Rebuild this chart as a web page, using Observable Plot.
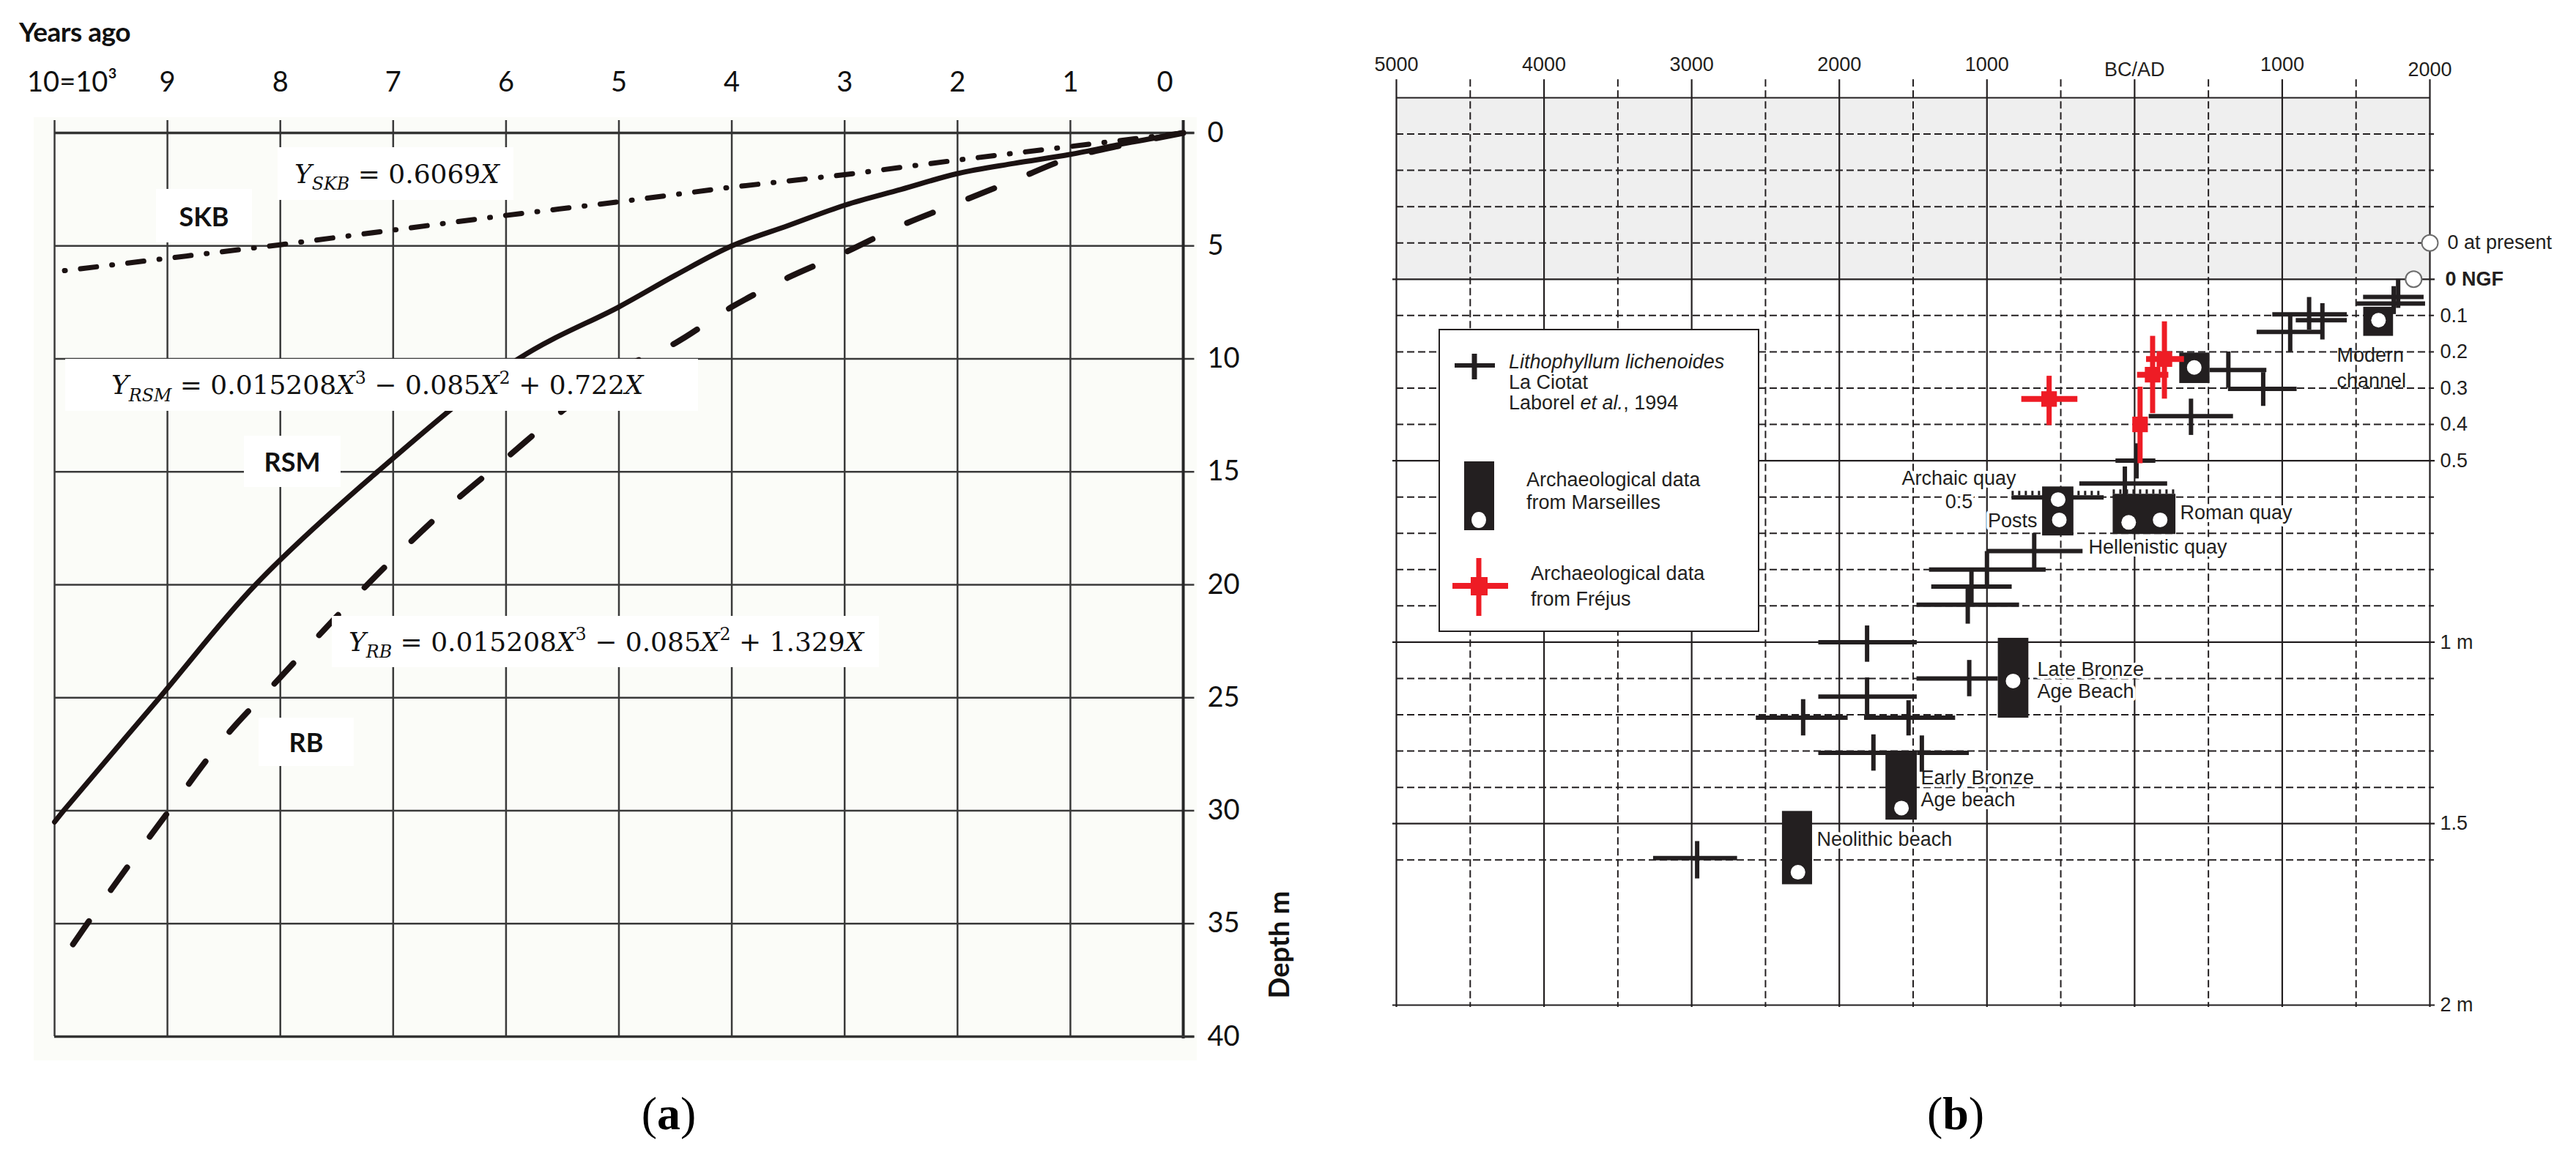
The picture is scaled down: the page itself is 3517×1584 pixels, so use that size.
<!DOCTYPE html>
<html>
<head>
<meta charset="utf-8">
<script src="https://cdn.jsdelivr.net/npm/d3@7"></script>
<script src="https://cdn.jsdelivr.net/npm/@observablehq/plot@0.6"></script>
<style>
  html, body { margin: 0; padding: 0; background: #ffffff; }
  #root { position: relative; width: 3517px; height: 1584px; overflow: hidden; background: #ffffff; }
  .layer { position: absolute; }
  .layer svg { max-width: none !important; display: block; }
  .box { position: absolute; background: #ffffff; display: flex; align-items: center; white-space: nowrap; color: #111; box-sizing: border-box; }
  .eq { font-family: "DejaVu Serif", "Liberation Serif", serif; font-size: 36px; }
  .eq i { font-style: italic; }
  .eq sub { font-size: 0.66em; position: relative; top: 0.4em; vertical-align: baseline; line-height: 0; }
  .eq sup { font-size: 0.66em; position: relative; top: -0.6em; vertical-align: baseline; line-height: 0; }
  .tag { font-family: Lato, "Open Sans", sans-serif; font-weight: 700; font-size: 36px; justify-content: center; }
  .plain { position: absolute; white-space: nowrap; color: #111; }
  .legend { position: absolute; background: #fff; border: 2px solid #231f20; box-sizing: border-box; }
  .legend .t { position: absolute; font-family: "Liberation Sans", Arimo, Arial, sans-serif; font-size: 27px; color: #231f20; white-space: nowrap; }
  .legend svg { position: absolute; left: 0; top: 0; overflow: visible; }
  .cap { position: absolute; font-family: "Liberation Serif", "DejaVu Serif", serif; font-size: 64px; color: #000; transform: translate(-50%, -50%); white-space: nowrap; }
</style>
</head>
<body>
<div id="root">
  <div class="layer" style="left:46px;top:160px;width:1588px;height:1288px;background:#fbfcf8"></div>
  <div id="plotA" class="layer" style="left:0px;top:0px"></div>
  <div id="plotB" class="layer" style="left:1850px;top:0px"></div>

  <!-- panel (a) annotations -->
  <div class="plain" style="left:26px;top:42px;transform:translateY(-50%);font-family:Lato,sans-serif;font-weight:700;font-size:37px;letter-spacing:-0.5px;">Years ago</div>
  <div class="box eq" style="left:379px;top:201px;width:322px;height:72px;padding-left:23px;"><span><i>Y</i><sub><i>SKB</i></sub> = 0.6069<i>X</i></span></div>
  <div class="box tag" style="left:213px;top:258px;width:131px;height:73px;">SKB</div>
  <div class="box eq" style="left:89px;top:490px;width:864px;height:71px;padding-left:63px;"><span><i>Y</i><sub><i>RSM</i></sub> = 0.015208<i>X</i><sup>3</sup> − 0.085<i>X</i><sup>2</sup> + 0.722<i>X</i></span></div>
  <div class="box tag" style="left:333px;top:595px;width:132px;height:70px;">RSM</div>
  <div class="box eq" style="left:453px;top:841px;width:747px;height:70px;padding-left:23px;"><span><i>Y</i><sub><i>RB</i></sub> = 0.015208<i>X</i><sup>3</sup> − 0.085<i>X</i><sup>2</sup> + 1.329<i>X</i></span></div>
  <div class="box tag" style="left:353px;top:980px;width:130px;height:66px;">RB</div>
  <div class="plain" style="left:1745px;top:1290px;transform:translate(-50%,-50%) rotate(-90deg);font-family:Lato,sans-serif;font-weight:700;font-size:38px;">Depth m</div>

  <!-- panel (b) legend -->
  <div class="legend" style="left:1964px;top:449px;width:438px;height:414px;">
    <svg width="120" height="410">
      <line x1="20" y1="48" x2="75" y2="48" stroke="#231f20" stroke-width="6"/>
      <line x1="47" y1="32" x2="47" y2="67" stroke="#231f20" stroke-width="7"/>
      <rect x="33" y="179" width="41" height="94" fill="#231f20"/>
      <ellipse cx="53" cy="259" rx="10" ry="11" fill="#ffffff"/>
      <line x1="53" y1="311" x2="53" y2="390" stroke="#ee1c25" stroke-width="7"/>
      <line x1="17" y1="349" x2="93" y2="349" stroke="#ee1c25" stroke-width="8"/>
      <rect x="42" y="337" width="23" height="25" fill="#ee1c25"/>
    </svg>
    <div class="t" style="left:94px;top:29px;line-height:28px;"><i>Lithophyllum lichenoides</i><br>La Ciotat<br>Laborel <i>et al.</i>, 1994</div>
    <div class="t" style="left:118px;top:189px;line-height:31px;">Archaeological data<br>from Marseilles</div>
    <div class="t" style="left:124px;top:315px;line-height:35px;">Archaeological data<br>from Fréjus</div>
  </div>

  <div class="cap" style="left:913px;top:1521px;">(<b>a</b>)</div>
  <div class="cap" style="left:2670px;top:1521px;">(<b>b</b>)</div>
</div>
<script>
// ---------------- Panel (a): depth vs thousands of years ago ----------------
const yearsAgoTicks = [0, 1, 2, 3, 4, 5, 6, 7, 8, 9, 10];
const yearsAgoLabels = ["0", "1", "2", "3", "4", "5", "6", "7", "8", "9", "10=10³"];
const depthTicksA = [0, 5, 10, 15, 20, 25, 30, 35, 40];

const skbX = [0, 1, 2, 3, 4, 5, 6, 7, 8, 9, 10];
const skbY = [0, 0.6, 1.2, 1.85, 2.4, 3.05, 3.65, 4.3, 4.95, 5.55, 6.15];

const rsmX = [0, 0.5, 1, 1.5, 2, 2.5, 3, 3.5, 4, 4.5, 5, 5.89, 7.14, 8.22, 9.07, 9.92, 10];
const rsmY = [0, 0.45, 0.95, 1.35, 1.8, 2.5, 3.2, 4.1, 5.0, 6.3, 7.7, 10, 15, 20, 25, 30, 30.5];

const rbX = [0, 0.5, 1, 1.5, 2, 2.5, 3, 3.5, 4, 4.5, 5, 5.5, 6, 6.5, 7, 7.5, 8, 8.5, 9, 9.5, 10];
const rbY = [0, 0.5, 1.1, 2.1, 3.1, 4.1, 5.3, 6.4, 7.7, 9.3, 10.5, 12.3, 14.4, 16.5, 18.85, 21.4, 24.1, 26.8, 30.1, 33.5, 37.1];

// ---------------- Panel (b): relative sea level, Marseille / Fréjus ----------------
const yearSolid = [-5000, -4000, -3000, -2000, -1000, 0, 1000, 2000];
const yearDashed = [-4500, -3500, -2500, -1500, -500, 500, 1500];
const topAxisYears = [-5000, -4000, -3000, -2000, -1000, 0, 1000, 2000];
const topAxisLabels = ["5000", "4000", "3000", "2000", "1000", "BC/AD", "1000", "2000"];
const depthSolid = [-0.5, 0, 0.5, 1.0, 1.5, 2.0];
const depthDashed = [-0.4, -0.3, -0.2, -0.1, 0.1, 0.2, 0.3, 0.4, 0.6, 0.7, 0.8, 0.9, 1.1, 1.2, 1.3, 1.4, 1.6];
const depthLabelValues = [0.1, 0.2, 0.3, 0.4, 0.5, 1.0, 1.5, 2.0];
const depthLabels = ["0.1", "0.2", "0.3", "0.4", "0.5", "1 m", "1.5", "2 m"];
const refLevelYear = [2000, 1890];
const refLevelDepth = [-0.1, 0];
const refLevelLabel = ["0 at present", "0 NGF"];
const shadedBand = {yearMin: -5000, yearMax: 2000, depthMin: -0.5, depthMax: 0};

// Lithophyllum lichenoides, La Ciotat (Laborel et al., 1994)
const lithoYearMin = [1550, 1505, 935, 1094, 829, 510, 635, 98, -127, -372, -1000, -1390, -1375, -1475, -2140, -1475, -2140, -2563, -1830, -2140, -1470, -3259];
const lithoYearMax = [1960, 1970, 1440, 1440, 1267, 895, 1100, 669, 143, 223, -350, -600, -830, -780, -1473, -924, -1473, -1941, -1213, -1470, -1120, -2690];
const lithoYear = [1785, 1755, 1182, 1272, 1054, 635, 871, 382, 13, -66, -680, -1000, -1105, -1130, -1812, -1120, -1812, -2245, -1531, -1769, -1441, -2963];
const lithoDepth = [0.049, 0.067, 0.097, 0.113, 0.145, 0.25, 0.302, 0.377, 0.50, 0.563, 0.749, 0.80, 0.847, 0.897, 1.0, 1.1, 1.15, 1.208, 1.208, 1.305, 1.305, 1.595];
const lithoDepthMin = [0.0, 0.02, 0.05, 0.067, 0.10, 0.20, 0.257, 0.33, 0.453, 0.517, 0.70, 0.75, 0.797, 0.85, 0.955, 1.05, 1.098, 1.158, 1.161, 1.255, 1.258, 1.549];
const lithoDepthMax = [0.08, 0.097, 0.14, 0.167, 0.20, 0.30, 0.35, 0.43, 0.55, 0.603, 0.797, 0.845, 0.897, 0.95, 1.055, 1.15, 1.208, 1.258, 1.258, 1.355, 1.358, 1.652];

// Archaeological data from Marseilles
const marsYearMin = [1551, 305, -624, -146, -924, -1685, -2386];
const marsYearMax = [1753, 510, -412, 279, -717, -1473, -2182];
const marsDepthMin = [0.077, 0.203, 0.572, 0.597, 0.989, 1.311, 1.466];
const marsDepthMax = [0.157, 0.287, 0.707, 0.703, 1.209, 1.49, 1.668];
const marsDotYear = [1652, 404, -518, -510, -40, 173, -823, -1579, -2280];
const marsDotDepth = [0.113, 0.243, 0.607, 0.663, 0.67, 0.663, 1.107, 1.457, 1.634];
const quayYearMin = [-831, -146];
const quayYearMax = [-207, 279];
const quayDepth = [0.601, 0.597];

// Archaeological data from Fréjus
const frejusYearMin = [-765, 80, 19, 37];
const frejusYearMax = [-385, 337, 231, 37];
const frejusYear = [-579, 202, 122, 37];
const frejusDepth = [0.33, 0.22, 0.263, 0.40];
const frejusDepthMin = [0.267, 0.117, 0.157, 0.297];
const frejusDepthMax = [0.403, 0.33, 0.37, 0.508];

// Site labels
const siteLabels = ["Archaic quay\n0.5", "Posts", "Roman quay", "Hellenistic quay", "Late Bronze\nAge Beach", "Early Bronze\nAge beach", "Neolithic beach", "Modern\nchannel"];
const siteLabelYear = [-1190, -659, 308, -312, -659, -1448, -2152, 1370];
const siteLabelDepth = [0.578, 0.666, 0.642, 0.737, 1.104, 1.403, 1.542, 0.2395];

// ---------------- tables built from the arrays ----------------
const skb = skbX.map((x, i) => ({x, y: skbY[i]}));
const rsm = rsmX.map((x, i) => ({x, y: rsmY[i]}));
const rb = rbX.map((x, i) => ({x, y: rbY[i]}));
const topA = yearsAgoTicks.map((v, i) => ({v, label: yearsAgoLabels[i]}));

const litho = lithoYear.map((c, i) => ({c, x1: lithoYearMin[i], x2: lithoYearMax[i], y: lithoDepth[i], y1: lithoDepthMin[i], y2: lithoDepthMax[i]}));
const mars = marsYearMin.map((x1, i) => ({x1, x2: marsYearMax[i], y1: marsDepthMin[i], y2: marsDepthMax[i]}));
const marsDots = marsDotYear.map((x, i) => ({x, y: marsDotDepth[i]}));
const quays = quayYearMin.map((x1, i) => ({x1, x2: quayYearMax[i], y: quayDepth[i]}));
const frejus = frejusYear.map((c, i) => ({c, x1: frejusYearMin[i], x2: frejusYearMax[i], y: frejusDepth[i], y1: frejusDepthMin[i], y2: frejusDepthMax[i]}));
const topB = topAxisYears.map((year, i) => ({year, label: topAxisLabels[i]}));
const depthB = depthLabelValues.map((d, i) => ({d, label: depthLabels[i]}));
const refLevels = refLevelYear.map((year, i) => ({year, depth: refLevelDepth[i], label: refLevelLabel[i]}));
const sites = siteLabels.map((text, i) => ({text, year: siteLabelYear[i], depth: siteLabelDepth[i]}));

const ink = "#231f20";
const gridA = "#3a3a3a";
const curveInk = "#1b1212";
const red = "#ee1c25";
const fontA = "Lato, 'Open Sans', sans-serif";
const fontB = "'Liberation Sans', Arimo, Arial, sans-serif";

// ---------------- Panel (a) ----------------
const plotA = Plot.plot({
  width: 1800, height: 1450, margin: 0,
  style: {background: "transparent", overflow: "visible"},
  x: {domain: [10, 0], range: [74, 1615], axis: null},
  y: {domain: [0, 40], range: [181, 1415], axis: null},
  marks: [
    Plot.ruleY(depthTicksA, {x1: 10, x2: -0.1, stroke: gridA, strokeWidth: 2.5}),
    Plot.ruleX(yearsAgoTicks, {y1: -0.55, y2: 40, stroke: gridA, strokeWidth: 2.5}),
    Plot.ruleX([0], {y1: -0.55, y2: 40.1, stroke: "#262626", strokeWidth: 4}),
    Plot.ruleY([0, 40], {x1: 10, x2: -0.1, stroke: "#333", strokeWidth: 3.5}),
    Plot.line(skb, {x: "x", y: "y", stroke: curveInk, strokeWidth: 7, strokeDasharray: "22,21,1,21", strokeLinecap: "round"}),
    Plot.line(rsm, {x: "x", y: "y", stroke: curveInk, strokeWidth: 7, curve: "catmull-rom"}),
    Plot.line(rb, {x: "x", y: "y", stroke: curveInk, strokeWidth: 8, strokeDasharray: "38,52", strokeLinecap: "round", curve: "catmull-rom"}),
    Plot.text(topA.filter(d => d.v > 0 && d.v < 10), {x: "v", y: () => 0, text: "label", dy: -69, fontFamily: fontA, fontSize: 38, fill: "#111"}),
    Plot.text(topA.filter(d => d.v === 10), {x: "v", y: () => 0, text: "label", dy: -69, dx: 24, fontFamily: fontA, fontSize: 38, fill: "#111"}),
    Plot.text(topA.filter(d => d.v === 0), {x: "v", y: () => 0, text: "label", dy: -69, dx: -25, fontFamily: fontA, fontSize: 38, fill: "#111"}),
    Plot.text(depthTicksA, {x: () => 0, y: d => d, text: d => String(d), dx: 33, textAnchor: "start", fontFamily: fontA, fontSize: 38, fill: "#111"})
  ]
});
document.getElementById("plotA").appendChild(plotA);

// ---------------- Panel (b) ----------------
const plotB = Plot.plot({
  width: 1667, height: 1450, margin: 0,
  style: {background: "transparent", overflow: "visible"},
  x: {domain: [-5000, 2000], range: [56, 1467], axis: null},
  y: {domain: [-0.5, 2.0], range: [133, 1372], axis: null},
  marks: [
    Plot.rect([shadedBand], {x1: "yearMin", x2: "yearMax", y1: "depthMin", y2: "depthMax", fill: "#efefef"}),
    Plot.ruleX(yearDashed, {y1: -0.55, y2: 2.006, stroke: ink, strokeWidth: 2, strokeDasharray: "10,5"}),
    Plot.ruleY(depthDashed, {x1: -5000, x2: 2030, stroke: ink, strokeWidth: 2, strokeDasharray: "10,5"}),
    Plot.ruleX(yearSolid, {y1: -0.55, y2: 2.006, stroke: ink, strokeWidth: 2.2}),
    Plot.ruleY(depthSolid.filter(d => d > -0.5), {x1: -5025, x2: 2035, stroke: ink, strokeWidth: 2.2}),
    Plot.ruleY(depthSolid.filter(d => d === -0.5), {x1: -5000, x2: 2000, stroke: ink, strokeWidth: 2.2}),
    // axis labels
    Plot.text(topB.filter(d => !(d.label === "BC/AD" || d.year === 2000)), {x: "year", y: () => -0.5, text: "label", dy: -45, fontFamily: fontB, fontSize: 27, fill: ink}),
    Plot.text(topB.filter(d => d.label === "BC/AD" || d.year === 2000), {x: "year", y: () => -0.5, text: "label", dy: -38, fontFamily: fontB, fontSize: 27, fill: ink}),
    Plot.text(depthB, {x: () => 2000, y: "d", text: "label", dx: 14, textAnchor: "start", fontFamily: fontB, fontSize: 27, fill: ink}),
    Plot.dot(refLevels, {x: "year", y: "depth", r: 11, fill: "white", stroke: "#6d6d6d", strokeWidth: 2}),
    Plot.text(refLevels.filter((d, i) => i === 0), {x: () => 2000, y: "depth", text: "label", dx: 24, textAnchor: "start", fontFamily: fontB, fontSize: 27, fill: ink}),
    Plot.text(refLevels.filter((d, i) => i === 1), {x: () => 2000, y: "depth", text: "label", dx: 21, textAnchor: "start", fontFamily: fontB, fontSize: 27, fontWeight: "bold", fill: ink}),
    // site labels (with white backgrounds)
    Plot.text(sites.filter(d => d.text.startsWith("Archaic")), {x: "year", y: "depth", text: "text", textAnchor: "middle", lineHeight: 1.18, fontFamily: fontB, fontSize: 27, fill: ink, stroke: "white", strokeWidth: 8, paintOrder: "stroke"}),
    Plot.text(sites.filter(d => d.text === "Posts"), {x: "year", y: "depth", text: "text", textAnchor: "end", fontFamily: fontB, fontSize: 27, fill: ink, stroke: "white", strokeWidth: 8, paintOrder: "stroke"}),
    Plot.text(sites.filter(d => !d.text.startsWith("Archaic") && d.text !== "Posts" && !d.text.startsWith("Modern")), {x: "year", y: "depth", text: "text", textAnchor: "start", lineHeight: 1.1, fontFamily: fontB, fontSize: 27, fill: ink, stroke: "white", strokeWidth: 8, paintOrder: "stroke"}),
    // Lithophyllum crosses
    Plot.ruleY(litho, {y: "y", x1: "x1", x2: "x2", stroke: ink, strokeWidth: 6}),
    Plot.ruleX(litho, {x: "c", y1: "y1", y2: "y2", stroke: ink, strokeWidth: 6}),
    // Marseille archaeological data
    Plot.ruleY(quays, {y: "y", x1: "x1", x2: "x2", stroke: ink, strokeWidth: 6}),
    Plot.ruleY(quays, {y: "y", x1: "x1", x2: "x2", stroke: ink, strokeWidth: 6, dy: -6, strokeDasharray: "3,6"}),
    Plot.rect(mars, {x1: "x1", x2: "x2", y1: "y1", y2: "y2", fill: ink}),
    Plot.dot(marsDots, {x: "x", y: "y", r: 10, fill: "white"}),
    // Fréjus archaeological data
    Plot.ruleY(frejus, {y: "y", x1: "x1", x2: "x2", stroke: red, strokeWidth: 8}),
    Plot.ruleX(frejus, {x: "c", y1: "y1", y2: "y2", stroke: red, strokeWidth: 7}),
    Plot.dot(frejus, {x: "c", y: "y", symbol: "square", r: 12, fill: red}),
    // Modern channel label (no background)
    Plot.text(sites.filter(d => d.text.startsWith("Modern")), {x: "year", y: "depth", text: "text", textAnchor: "start", lineHeight: 1.3, fontFamily: fontB, fontSize: 27, fill: ink})
  ]
});
document.getElementById("plotB").appendChild(plotB);
</script>
</body>
</html>
